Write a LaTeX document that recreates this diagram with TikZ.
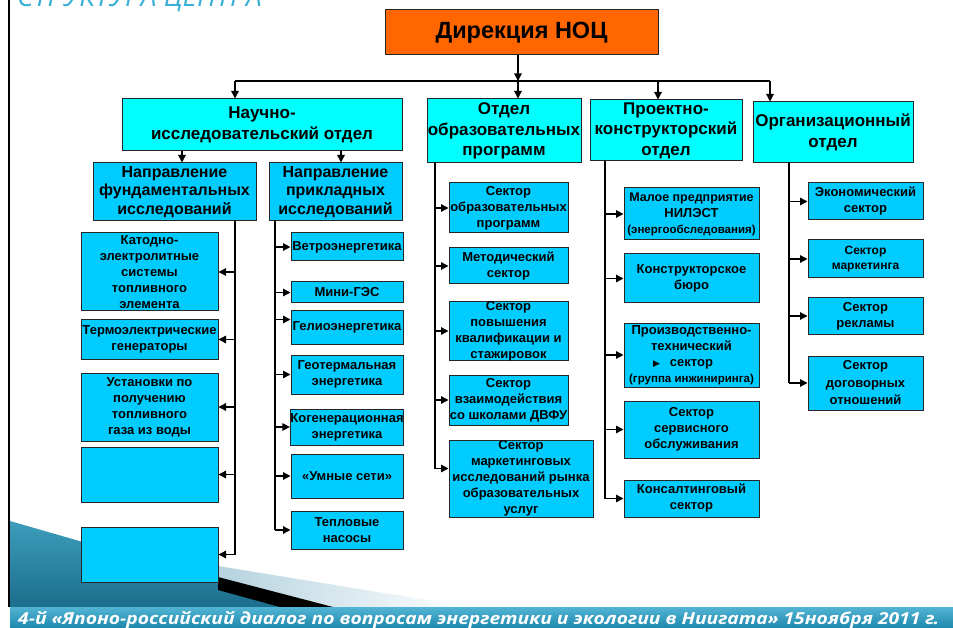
\documentclass[tikz,border=0pt]{standalone}
\usepackage{fontspec}
\setmainfont{Liberation Sans}
\newfontfamily\osans{Open Sans}
\newfontfamily\djv{DejaVu Sans}
\usetikzlibrary{arrows.meta}
\definecolor{dirC}{HTML}{FF6600}
\definecolor{deptC}{HTML}{00FFFF}
\definecolor{subC}{HTML}{00CCFF}
\definecolor{edgeC}{HTML}{262626}
\definecolor{titleC}{HTML}{3AB0D6}
\definecolor{bandA}{HTML}{52B4D4}
\definecolor{bandB}{HTML}{1E88AC}
\definecolor{tealA}{HTML}{3D9DBB}
\definecolor{tealB}{HTML}{1B6E8C}
\definecolor{lightC}{HTML}{B5D3DF}
\newcommand\bx[7]{\node[#6, minimum width={((#4)-(#2))*1pt}, minimum height={((#5)-(#3))*1pt}] (#1) at ({((#2)+(#4))/2},{((#3)+(#5))/2}) {#7};}
\tikzset{
  box/.style={draw=edgeC, line width=1pt, inner sep=0pt, align=center},
  dirbox/.style={box, fill=dirC, font=\fontsize{23.5}{27}\selectfont\bfseries},
  deptbox/.style={box, fill=deptC, font=\fontsize{17}{20.5}\selectfont\bfseries},
  subbox/.style={box, fill=subC, font=\fontsize{16}{18.5}\selectfont\bfseries},
  leaf/.style={box, fill=subC, font=\fontsize{13}{16}\selectfont\bfseries},
  leafs/.style={box, fill=subC, font=\fontsize{12}{15}\selectfont\bfseries},
  leafw/.style={box, fill=subC, font=\fontsize{13}{17.5}\selectfont\bfseries},
  spine/.style={line width=1.8pt, black},
  arr/.style={line width=1.3pt, -{Triangle[length=7.5pt,width=7.5pt]}},
  busline/.style={line width=2.5pt}
}
\begin{document}
\begin{tikzpicture}[x=1pt,y=-1pt]
\useasboundingbox (0,0) rectangle (953,628);
\clip (0,0) rectangle (953,628);
\fill[white] (0,0) rectangle (953,628);
% decoration
\shade[top color=tealA, bottom color=tealB] (10,521) -- (218,581) -- (282,607) -- (10,607) -- cycle;
\shade[left color=lightC, right color=white] (218,566) -- (470,607) -- (333,607) -- (218,578) -- cycle;
\fill[black] (218,577) -- (333,607) -- (280,607) -- (218,590) -- cycle;
\shade[top color=bandA, bottom color=bandB] (10,607) rectangle (953,628);
\draw[line width=2.5pt] (9,0) -- (9,607);
\node[anchor=base west, text=titleC, inner sep=0pt, font=\fontsize{28}{30}\osans\itshape] (title) at (17,7) {СТРУКТУРА ЦЕНТРА};
\node[anchor=base west, text=white, inner sep=0pt, font=\fontsize{16.5}{18}\osans\bfseries\itshape] (banner) at (18,624) {\resizebox{921pt}{\height}{4-й «Японо-российский диалог по вопросам энергетики и экологии в Ниигата» 15ноября 2011 г.}};
% boxes
\bx{dir}{385}{10}{658}{55}{dirbox}{Дирекция НОЦ}
\bx{nio}{122}{99}{402}{151}{deptbox}{Научно-\\исследовательский отдел}
\bx{oop}{427}{99}{581}{163}{deptbox}{Отдел\\образовательных\\программ}
\bx{pko}{590}{100}{742}{161}{deptbox}{Проектно-\\конструкторский\\отдел}
\bx{org}{753}{102}{913}{163}{deptbox}{Организационный\\отдел}
\bx{fund}{93}{163}{256}{221}{subbox}{Направление\\фундаментальных\\исследований}
\bx{prik}{269}{163}{402}{221}{subbox}{Направление\\прикладных\\исследований}
\bx{k1}{81}{233}{218}{311}{leaf}{Катодно-\\электролитные\\системы\\топливного\\элемента}
\bx{k2}{81}{320}{218}{359}{leaf}{Термоэлектрические\\генераторы}
\bx{k3}{81}{373}{218}{441}{leaf}{Установки по\\получению\\топливного\\газа из воды}
\bx{k4}{81}{447}{218}{502}{leaf}{}
\bx{k5}{81}{527}{218}{582}{leaf}{}
\bx{p1}{291}{233}{403}{261}{leaf}{Ветроэнергетика}
\bx{p2}{291}{282}{403}{303}{leaf}{Мини-ГЭС}
\bx{p3}{291}{311}{403}{344}{leaf}{Гелиоэнергетика}
\bx{p4}{291}{355}{403}{394}{leaf}{Геотермальная\\энергетика}
\bx{p5}{291}{409}{403}{445}{leaf}{Когенерационная\\энергетика}
\bx{p6}{291}{454}{403}{498}{leaf}{«Умные сети»}
\bx{p7}{291}{511}{403}{549}{leaf}{Тепловые\\насосы}
\bx{o1}{449}{183}{568}{233}{leaf}{Сектор\\образовательных\\программ}
\bx{o2}{449}{248}{568}{284}{leaf}{Методический\\сектор}
\bx{o3}{449}{302}{568}{360}{leaf}{Сектор\\повышения\\квалификации и\\стажировок}
\bx{o4}{449}{375}{568}{425}{leaf}{Сектор\\взаимодействия\\со школами ДВФУ}
\bx{o5}{449}{440}{593}{517}{leaf}{Сектор\\маркетинговых\\исследований рынка\\образовательных\\услуг}
\bx{q1}{624}{188}{759}{240}{leaf}{{\fontsize{12.5}{16}\selectfont Малое предприятие}\\НИЛЭСТ\\{\fontsize{11.5}{14}\selectfont(энергообследования)}}
\bx{q2}{624}{254}{759}{303}{leaf}{Конструкторское\\бюро}
\bx{q3}{624}{323}{759}{387}{leaf}{Производственно-\\технический\\\makebox[0pt][r]{{\fontsize{9}{9}\djv ▶}\hspace{10pt}}сектор\\{\fontsize{11.5}{14}\selectfont(группа инжиниринга)}}
\bx{q4}{624}{401}{759}{458}{leaf}{Сектор\\сервисного\\обслуживания}
\bx{q5}{624}{480}{759}{517}{leaf}{Консалтинговый\\сектор}
\bx{r1}{808}{183}{923}{220}{leaf}{Экономический\\сектор}
\bx{r2}{808}{240}{923}{278}{leafs}{Сектор\\маркетинга}
\bx{r3}{808}{298}{923}{334}{leaf}{Сектор\\рекламы}
\bx{r4}{808}{356}{923}{410}{leafw}{Сектор\\договорных\\отношений}
% connectors: top bus
\coordinate (a1) at (235,81);
\coordinate (a2) at (518,81);
\coordinate (a3) at (658,81);
\coordinate (a4) at (770,81);
\draw[busline] (a1) -- (a4);
\draw[arr] (dir.south -| a2) -- (a2);
\draw[arr] (a1) -- (nio.north -| a1);
\draw[arr] (a2) -- (oop.north -| a2);
\draw[arr] (a3) -- (pko.north -| a3);
\draw[arr] (a4) -- (org.north -| a4);
\coordinate (xb1) at (182,0);
\coordinate (xb2) at (341,0);
\draw[arr] (nio.south -| xb1) -- (fund.north -| xb1);
\draw[arr] (nio.south -| xb2) -- (prik.north -| xb2);
% spines
\coordinate (sf) at (235,0);
\coordinate (sp) at (275,0);
\coordinate (so) at (435,0);
\coordinate (sq) at (605,0);
\coordinate (sr) at (789,0);
\coordinate (p3in) at ([yshift=8pt]p3.west);
\coordinate (o5in) at ([yshift=10pt]o5.west);
\draw[spine] (fund.south -| sf) -- (k5.east -| sf);
\foreach \n in {k1,k2,k3,k4,k5} \draw[arr] (\n.east -| sf) -- (\n.east);
\draw[spine] (prik.south -| sp) -- (p7.west -| sp);
\foreach \n in {p1,p2,p3in,p4,p5,p6} \draw[arr] (\n -| sp) -- (\n);
\draw[arr] (p7.west -| sp) -- (p7.west);
\draw[spine] (oop.south -| so) -- (o5in -| so);
\foreach \n in {o1,o2,o3,o4} \draw[arr] (\n.west -| so) -- (\n.west);
\draw[arr] (o5in -| so) -- (o5in);
\draw[spine] (pko.south -| sq) -- (q5.west -| sq);
\foreach \n in {q1,q2,q3,q4,q5} \draw[arr] (\n.west -| sq) -- (\n.west);
\draw[spine] (org.south -| sr) -- (r4.west -| sr);
\foreach \n in {r1,r2,r3,r4} \draw[arr] (\n.west -| sr) -- (\n.west);
\end{tikzpicture}
\end{document}
